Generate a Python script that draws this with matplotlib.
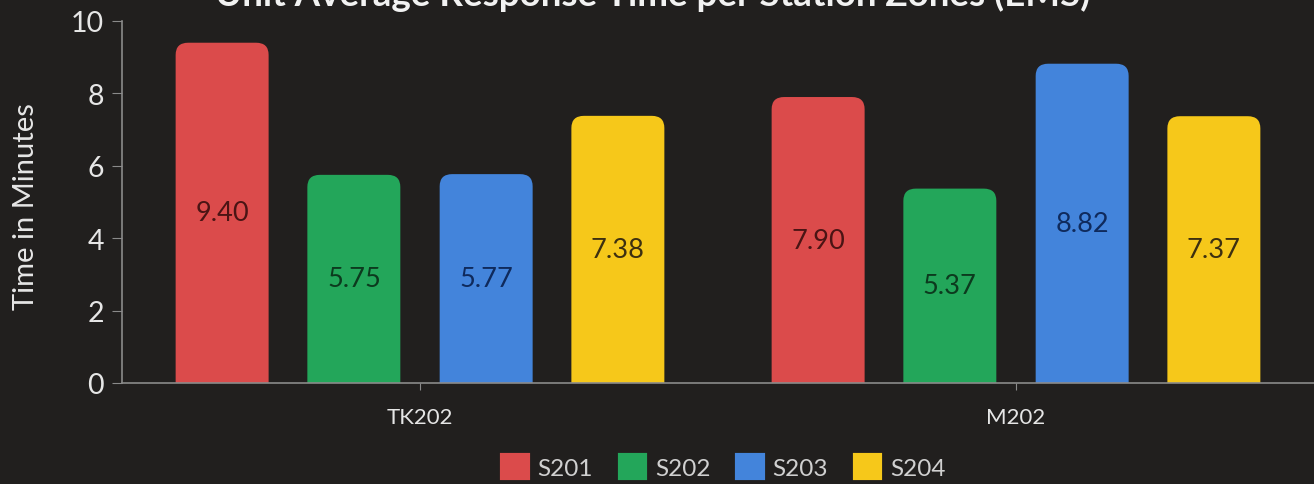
import matplotlib
matplotlib.use("Agg")
import matplotlib.pyplot as plt
import numpy as np
from matplotlib.patches import FancyBboxPatch, Patch

categories = ["TK202", "M202"]
series = ["S201", "S202", "S203", "S204"]
s201 = [9.40, 7.90]
s202 = [5.75, 5.37]
s203 = [5.77, 8.82]
s204 = [7.38, 7.37]
y_ticks = [0, 2, 4, 6, 8, 10]

values = [s201, s202, s203, s204]
colors = ["#DB4B4B", "#23A65A", "#4384DB", "#F6C81A"]
text_colors = ["#4a1414", "#0c3a1e", "#0f2a5c", "#3d3010"]

BG = "#211f1e"
FONT = "Lato"

fig = plt.figure(figsize=(13.14, 4.85), dpi=100, facecolor=BG)
ax = fig.add_axes([122 / 1314, 1 - 384 / 485, 1 - 122 / 1314, (384 - 22) / 485])
ax.set_facecolor("none")

x = np.arange(len(categories))
width = 0.156
offsets = [-0.332, -0.111, 0.111, 0.332]

for vals, off, c, tc in zip(values, offsets, colors, text_colors):
    bars = ax.bar(x + off, vals, width, color=c, alpha=0)
    for b, v in zip(bars, vals):
        p = FancyBboxPatch((b.get_x(), -2), b.get_width(), v + 2,
                           boxstyle="round,pad=0,rounding_size=0.021",
                           mutation_aspect=16.0, facecolor=c, edgecolor="none",
                           clip_on=True)
        ax.add_patch(p)
        p.set_clip_path(ax.patch)
        ax.text(b.get_x() + b.get_width() / 2, v / 2, f"{v:.2f}", ha="center",
                va="center", color=tc, fontsize=19.5, family=FONT)

ax.set_xlim(-0.5, 1.5)
ax.set_ylim(0, 10)
ax.set_yticks(y_ticks)
ax.set_yticklabels([str(t) for t in y_ticks], fontsize=20.5, color="#e6e6e6", family=FONT)
ax.set_xticks(x)
ax.set_xticklabels(categories, fontsize=16, color="#e6e6e6", family=FONT)
ax.tick_params(axis="y", length=7, color="#8a8a8a", pad=6)
ax.tick_params(axis="x", length=5, color="#8a8a8a", pad=12)
for s in ["top", "right"]:
    ax.spines[s].set_visible(False)
for s in ["left", "bottom"]:
    ax.spines[s].set_color("#8a8a8a")
    ax.spines[s].set_linewidth(1.2)

ax.set_ylabel("Time in Minutes", fontsize=21, color="#e6e6e6", family=FONT)
ax.yaxis.set_label_coords(-83 / 1192, 0.49)

fig.text(0.497, 1 - 6 / 485, "Unit Average Response Time per Station Zones (EMS)",
         ha="center", va="baseline", fontsize=26.5, fontweight="bold",
         color="#f2f2f2", family=FONT)

handles = [Patch(facecolor=c, edgecolor=c, linewidth=3, joinstyle="round", label=s)
           for s, c in zip(series, colors)]
leg = fig.legend(handles=handles, loc="center", bbox_to_anchor=(724 / 1314, 1 - 468 / 485),
                 ncol=4, frameon=False, fontsize=17.5, handlelength=1.05, handleheight=1.05,
                 columnspacing=1.1, handletextpad=0.4)
for t in leg.get_texts():
    t.set_color("#d0d0d0")
    t.set_family(FONT)

fig.savefig("out.png", dpi=100, facecolor=BG)
